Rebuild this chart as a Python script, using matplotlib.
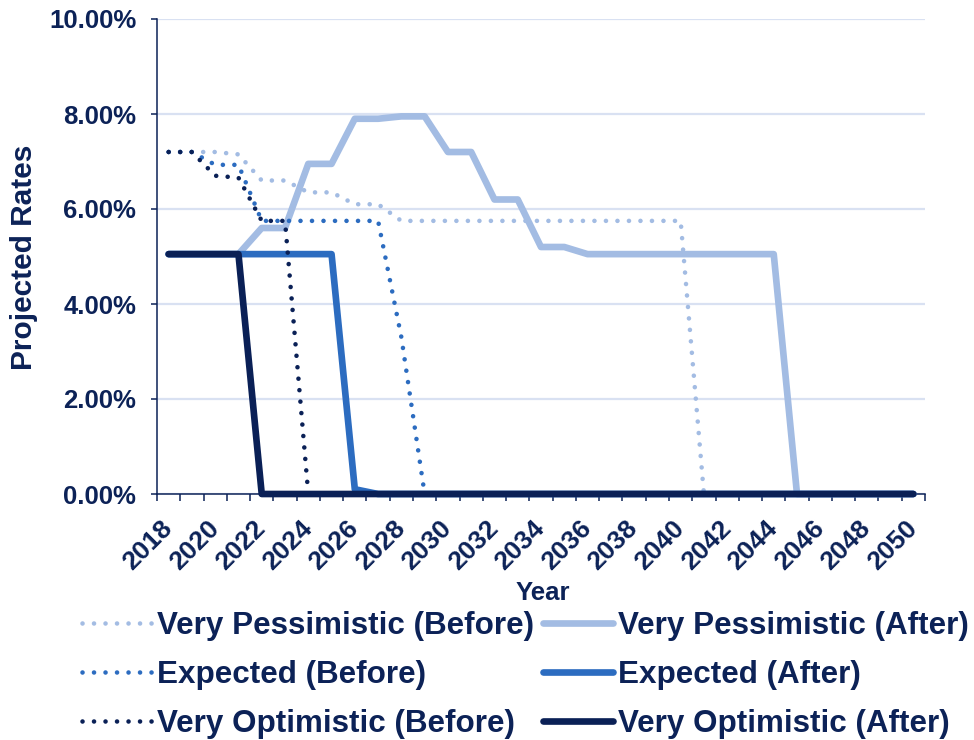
import numpy as np
import matplotlib
matplotlib.use("Agg")
import matplotlib.pyplot as plt
from matplotlib.ticker import FixedLocator, PercentFormatter
from matplotlib.transforms import ScaledTranslation

plt.rcParams['font.family'] = ['Liberation Sans', 'DejaVu Sans']
plt.rcParams['font.weight'] = 'bold'

# data (percent), one value per year 2018..2050
years = list(range(2018, 2051))
vp_before = [7.2, 7.2, 7.2, 7.15, 6.6, 6.6, 6.35, 6.35, 6.1, 6.1] + [5.75] * 13 + [0.0] * 10
vp_after = [5.05] * 4 + [5.6, 5.6, 6.95, 6.95, 7.9, 7.9, 7.95, 7.95, 7.2, 7.2,
                         6.2, 6.2, 5.2, 5.2] + [5.05] * 9 + [0.0] * 6
exp_before = [7.2, 7.2, 6.93, 6.93] + [5.75] * 6 + [3.3] + [0.0] * 22
exp_after = [5.05] * 8 + [0.1] + [0.0] * 24
vo_before = [7.2, 7.2, 6.7, 6.66, 5.75, 5.75] + [0.0] * 27
vo_after = [5.05] * 4 + [0.0] * 29

labels = ["Very Pessimistic (Before)", "Very Pessimistic (After)",
          "Expected (Before)", "Expected (After)",
          "Very Optimistic (Before)", "Very Optimistic (After)"]

NAVY = "#0C2257"
LIGHT = "#A3BCE3"
MID = "#2C6CC0"
DARK = "#0A2056"
GRID = "#D9E1F2"

fig = plt.figure(figsize=(9.74, 7.4), dpi=100)
ax = fig.add_axes([157 / 974, 1 - 494 / 740, 768 / 974, 475 / 740])

x = np.arange(len(years))
dotted = (0, (0.01, 2.5))
series = [
    (vp_before, LIGHT, dotted, 3.3),
    (vp_after, LIGHT, "-", 4.8),
    (exp_before, MID, dotted, 3.3),
    (exp_after, MID, "-", 4.8),
    (vo_before, DARK, dotted, 3.3),
    (vo_after, DARK, "-", 4.8),
]
handles = []
for (vals, col, ls, lw), lab in zip(series, labels):
    h, = ax.plot(x, vals, color=col, linestyle=ls, linewidth=lw, label=lab,
                 dash_capstyle="round", solid_capstyle="round",
                 solid_joinstyle="round", clip_on=False, zorder=3)
    handles.append(h)

ax.set_xlim(-0.5, len(years) - 0.5)
ax.set_ylim(0, 10)

# gridlines
ax.set_yticks(np.arange(0, 10.1, 2))
ax.yaxis.set_major_formatter(PercentFormatter(decimals=2))
ax.grid(axis="y", color=GRID, linewidth=1.6)
ax.set_axisbelow(True)

for s in ["top", "right"]:
    ax.spines[s].set_visible(False)
for s in ["left", "bottom"]:
    ax.spines[s].set_color(NAVY)
    ax.spines[s].set_linewidth(1.1)
    ax.spines[s].set_zorder(2)

ax.tick_params(axis="y", direction="out", length=4, width=1.1, color=NAVY,
               labelsize=18.5, labelcolor=NAVY, pad=11)

# year labels every 2 years, ticks between categories
ax.set_xticks(x[::2])
ax.set_xticklabels([str(y) for y in years[::2]], rotation=45, ha="right",
                   va="center", rotation_mode="anchor")
shift = ScaledTranslation(4 / 100, 2 / 100, fig.dpi_scale_trans)
for t in ax.get_xticklabels():
    t.set_transform(t.get_transform() + shift)
ax.xaxis.set_minor_locator(FixedLocator(np.arange(-0.5, len(years), 1.0)))
ax.tick_params(axis="x", which="major", length=0, labelsize=19,
               labelcolor=NAVY, pad=22)
ax.tick_params(axis="x", which="minor", direction="out", length=5, width=1.1,
               color=NAVY)

fig.text(543 / 974, 1 - 593 / 740, "Year", ha="center", va="center",
         fontsize=18.5, color=NAVY, fontweight="bold")
fig.text(24 / 974, 1 - 257 / 740, "Projected Rates", ha="center", va="center",
         rotation=90, fontsize=21.5, color=NAVY, fontweight="bold")

order = [0, 2, 4, 1, 3, 5]
leg = fig.legend([handles[i] for i in order], [labels[i] for i in order],
                 loc="upper left", bbox_to_anchor=(82 / 974, 1 - 611 / 740),
                 ncol=2, frameon=False, borderpad=0, borderaxespad=0,
                 handlelength=2.22, handletextpad=0.16, columnspacing=0.3,
                 labelspacing=0.6, prop={"size": 22.6, "weight": "bold"})
for t in leg.get_texts():
    t.set_color(NAVY)

fig.savefig("out.png", dpi=100)
